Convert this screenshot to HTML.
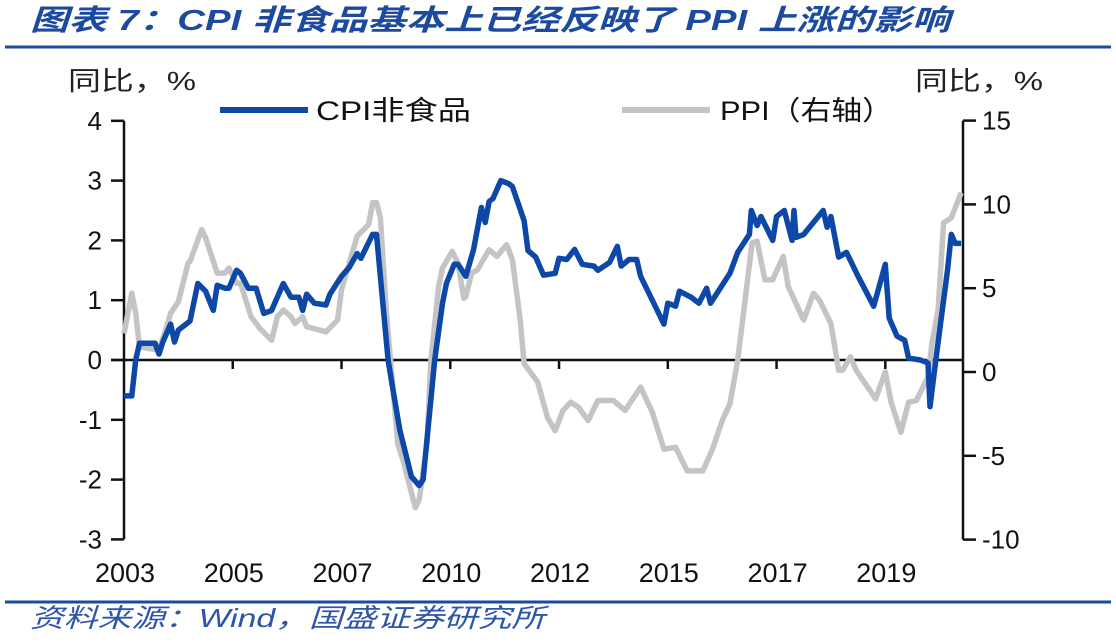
<!DOCTYPE html>
<html><head><meta charset="utf-8"><style>
html,body{margin:0;padding:0;background:#fff;}
body{width:1116px;height:642px;overflow:hidden;position:relative;font-family:"Liberation Sans","Noto Sans CJK SC",sans-serif;}
svg{position:absolute;left:0;top:0;}
</style></head><body>
<svg id="chart" width="1116" height="642" viewBox="0 0 1116 642">
<text x="30" y="30" font-size="29" font-weight="bold" font-style="italic" fill="#1b4a9e" textLength="920" lengthAdjust="spacingAndGlyphs">图表 7：CPI 非食品基本上已经反映了 PPI 上涨的影响</text>
<line x1="5" y1="47" x2="1111" y2="47" stroke="#1b4a9e" stroke-width="3"/>
<text x="68" y="90" font-size="26" fill="#222" textLength="128" lengthAdjust="spacingAndGlyphs">同比，%</text>
<text x="915" y="90" font-size="26" fill="#222" textLength="128" lengthAdjust="spacingAndGlyphs">同比，%</text>
<g>
<g><line x1="220" y1="110" x2="308" y2="110" stroke="#0d47a8" stroke-width="6"/><text x="316" y="120" font-size="27" fill="#111" textLength="155" lengthAdjust="spacingAndGlyphs">CPI非食品</text></g>
<g><line x1="622" y1="110" x2="710" y2="110" stroke="#c4c4c6" stroke-width="6"/><text x="720" y="120" font-size="27" fill="#111" textLength="173" lengthAdjust="spacingAndGlyphs">PPI（右轴）</text></g>
</g>
<g id="axes"></g>
<g id="series"></g>
<line x1="5" y1="602" x2="1111" y2="602" stroke="#1b4a9e" stroke-width="3"/>
<text x="30" y="627" font-size="26" font-style="italic" fill="#2d55a8" textLength="515" lengthAdjust="spacingAndGlyphs">资料来源：Wind，国盛证券研究所</text>
</svg>
<script>
const cpiMonths=[0,2,3,4,8,9,10,12,13,14,17,19,21,23,24,26,27,29,30,32,34,36,38,41,43,45,46,47,49,52,53,56,58,60,61,64,65,68,69,71,74,76,77,80,82,83,85,86,88,90,92,93,94,95,97,99,100,103,104,106,108,111,112,114,116,118,121,122,125,127,128,130,132,133,136,139,140,142,143,146,148,150,151,152,156,158,161,161.5,163,164,167,168,170,172,172.5,173,175,180,181,182,184,186,189,193,196,197,199,201,202,205,207,207.5,209,212,213,214,215.5];
const cpiValues=[-0.6,-0.6,0,0.28,0.28,0.1,0.3,0.6,0.3,0.5,0.65,1.28,1.15,0.83,1.25,1.2,1.2,1.5,1.45,1.2,1.2,0.78,0.83,1.28,1.05,1.05,0.83,1.1,0.95,0.92,1.1,1.4,1.55,1.78,1.7,2.1,2.1,0,-0.4,-1.17,-1.95,-2.1,-2.0,0,0.95,1.28,1.6,1.6,1.4,1.85,2.55,2.3,2.65,2.7,3.0,2.95,2.9,2.33,1.83,1.72,1.42,1.45,1.7,1.68,1.85,1.6,1.57,1.5,1.63,1.9,1.57,1.68,1.68,1.4,1.0,0.6,0.95,0.9,1.15,1.05,0.95,1.2,0.95,1.05,1.45,1.8,2.1,2.5,2.25,2.4,2.0,2.4,2.5,2.0,2.5,2.05,2.1,2.5,2.22,2.4,1.72,1.8,1.4,0.9,1.6,0.7,0.4,0.33,0.03,0,-0.05,-0.78,0,1.5,2.1,1.95,1.95];
const ppiMonths=[0,2,3,4,9,11,12,14,16.5,17,20,21,24,26,27,29,30,32.7,35,38,39.5,41,43,44,46,47,52,55,56,58,60,63,64,65,66,67.5,69,70.5,72,75,76,78,79,81,82,84.5,86,87.5,88,89.5,91,94,96,98.5,100,102,103,106.5,109,111,113,115,117,119.5,122,126,129,133,136,139,142,145,149,151.5,154,156,158,160,161.7,163,165,167,169.7,171,175,177.5,179,182,184,185,187,188.5,193.5,196,197.5,200,202,204,207,208,209.6,211,213,214.5,215.5];
const ppiValues=[2.3,4.7,3.5,1.5,1.3,2.7,3.5,4.2,6.5,6.6,8.5,8.0,5.9,5.9,6.2,5.3,5.3,3.3,2.6,1.9,3.3,3.7,3.3,2.9,3.3,2.7,2.4,3.1,4.9,6.5,8.1,8.8,10.1,10.1,9.2,3.7,-0.3,-4.3,-5.4,-8.1,-7.6,-4.3,0.7,5.1,6.2,7.2,6.5,4.4,4.5,5.9,6.1,7.3,6.9,7.6,6.7,3.1,0.5,-0.6,-2.7,-3.5,-2.3,-1.8,-2.1,-2.9,-1.7,-1.7,-2.3,-0.9,-2.4,-4.6,-4.5,-5.9,-5.9,-4.6,-2.9,-1.9,0.7,4.5,7.7,7.8,5.5,5.5,6.9,5.1,3.1,4.7,4.3,2.9,0.1,0.1,0.9,0.1,-1.6,0,-1.8,-3.6,-1.8,-1.7,-0.3,1.7,3.7,8.9,9.2,10.1,10.7];
const leftTicks=[4,3,2,1,0,-1,-2,-3];
const rightTicks=[15,10,5,0,-5,-10];
const xTickMonths=[0,28,56,84,112,140,168,196];
const xTickLabels=["2003","2005","2007","2010","2012","2015","2017","2019"];

const X0=124,X1=963,MONTHS=216;
function x(m){return X0+m*(X1-X0)/MONTHS;}
function yL(v){return 360-v*59.8;}
function yR(v){return 372-v*16.76;}
const NS="http://www.w3.org/2000/svg";
function mk(tag,attrs,parent){const e=document.createElementNS(NS,tag);for(const k in attrs)e.setAttribute(k,attrs[k]);parent.appendChild(e);return e;}
const axes=document.getElementById('axes'),series=document.getElementById('series');

let e=mk('line',{x1:X0,y1:yL(4),x2:X0,y2:yL(-3),stroke:'#111','stroke-width':2.5},axes);


e=mk('line',{x1:X1,y1:yR(15),x2:X1,y2:yR(-10),stroke:'#111','stroke-width':2.5},axes);


e=mk('line',{x1:X0-13,y1:yL(0),x2:X1,y2:yL(0),stroke:'#111','stroke-width':2.5},axes);


leftTicks.forEach(v=>{
  let t=mk('line',{x1:X0-13,y1:yL(v),x2:X0,y2:yL(v),stroke:'#111','stroke-width':2.5},axes);
  
  
  let l=mk('text',{x:102,y:yL(v)+9,'font-size':26,'text-anchor':'end',fill:'#111'},axes);
  l.textContent=String(v);
  
  
});
rightTicks.forEach(v=>{
  let t=mk('line',{x1:X1,y1:yR(v),x2:X1+13,y2:yR(v),stroke:'#111','stroke-width':2.5},axes);
  
  
  let l=mk('text',{x:982,y:yR(v)+9,'font-size':26,fill:'#111'},axes);
  l.textContent=String(v);
  
  
});
xTickMonths.forEach((m,i)=>{
  if(i>0){let t=mk('line',{x1:x(m),y1:yL(0),x2:x(m),y2:yL(0)+9,stroke:'#111','stroke-width':2.5},axes);
  
  }
  let l=mk('text',{x:x(m)+1,y:582,'font-size':27,'text-anchor':'middle',fill:'#111'},axes);
  l.textContent=xTickLabels[i];
  
  
});
function path(ms,vs,yf){return ms.map((m,i)=>(i?'L':'M')+x(m).toFixed(1)+','+yf(vs[i]).toFixed(1)).join('');}
let p=mk('path',{d:path(ppiMonths,ppiValues,yR),fill:'none',stroke:'#c4c4c6','stroke-width':5.5,'stroke-linejoin':'round'},series);


p=mk('path',{d:path(cpiMonths,cpiValues,yL),fill:'none',stroke:'#0d47a8','stroke-width':5.5,'stroke-linejoin':'round'},series);


</script>
</body></html>
